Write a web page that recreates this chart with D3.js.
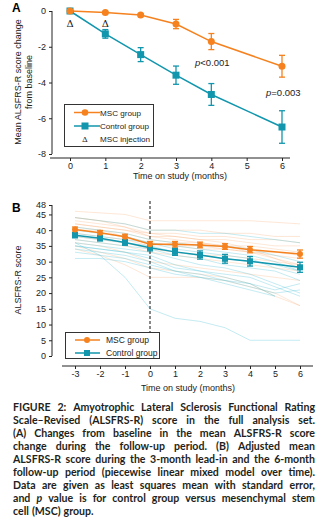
<!DOCTYPE html>
<html>
<head>
<meta charset="utf-8">
<script src="https://cdn.jsdelivr.net/npm/d3@7"></script>
<style>
  html, body { margin: 0; padding: 0; background: #fff; }
  svg { display: block; }
  .ax text { font-family: "Liberation Sans", Arial, sans-serif; font-size: 9px; fill: #222; }
  .ax path, .ax line { stroke: #222; stroke-width: 1; }
</style>
</head>
<body>
<svg id="fig" width="323" height="523"></svg>
<script>
// ---- Panel A: mean change from baseline ----
const monthsA = [0, 1, 2, 3, 4, 6];
const mscChange = [0, -0.09, -0.22, -0.73, -1.71, -3.09];
const mscChangeSE = [0, 0.05, 0.06, 0.26, 0.45, 0.61];
const ctlChange = [0, -1.28, -2.44, -3.59, -4.67, -6.49];
const ctlChangeSE = [0, 0.24, 0.39, 0.51, 0.61, 0.91];
const injectionMonths = [0, 1];
const ticksAX = [0, 1, 2, 3, 4, 5, 6];
const ticksAY = [0, -2, -4, -6, -8];

// ---- Panel B: adjusted mean score ----
const monthsB = [-3, -2, -1, 0, 1, 2, 3, 4, 6];
const mscScore = [40.2, 39.2, 37.9, 35.5, 35.5, 35.3, 34.8, 33.8, 32.4];
const mscScoreSE = [0.8, 0.7, 0.8, 0.9, 0.9, 0.9, 0.9, 1.0, 1.3];
const ctlScore = [38.4, 37.4, 36.1, 34.4, 33.1, 32.1, 30.9, 30.1, 28.2];
const ctlScoreSE = [0.8, 0.8, 0.9, 1.0, 1.1, 1.3, 1.4, 1.5, 1.6];
const monthsSubj = [-3, -2, -1, 0, 1, 2, 3, 4, 5, 6];
// individual patient trajectories
const mscSubjects = [
  [46, 45.5, 45, 43, 43, 43, 43, 43, 42.5, 42],
  [44, 43, 42, 40, 40, 40, 39, 39, 38, 38],
  [43, 42, 41, 39, 39, 38, 38, 37, 37, 36],
  [42, 41, 40, 38, 38, 37, 37, 36, 35, 35],
  [41, 40, 39, 37, 36, 36, 35, 35, 34, 33],
  [40, 40, 38, 36, 35, 35, 34, 33, 33, 32],
  [39, 38, 37, 35, 35, 34, 34, 33, 32, 31],
  [38, 37, 36, 34, 33, 32, 32, 31, 30, 29],
  [37, 36, 35, 33, 32, 31, 30, 29, 28, 27],
  [36, 35, 33, 30, 29, 28, 27, 26, 25, 24],
  [35, 33, 31, 28, 27, 26, 25, 23, 19, 16],
  [34, 32, 29, 25, 25, 25, 24, 22, 20, 16],
  [42, 41, 40, 39, 38, 37, 36, 34, 31, 28],
  [44, 43, 41, 38, 37, 36, 35, 33, 31, 29]
];
const ctlSubjects = [
  [44, 43, 42, 40, 40, 39, 39, 38, 37, 36],
  [41, 40, 39, 37, 36, 35, 35, 34, 32, 30],
  [40, 39, 38, 36, 35, 34, 33, 32, 30, 27],
  [38, 37, 36, 35, 33, 32, 31, 30, 29, 27],
  [37, 36, 35, 34, 32, 31, 29, 28, 27, 24],
  [36, 35, 34, 33, 31, 29, 28, 26, 23, 20],
  [35, 34, 33, 32, 29, 27, 26, 25, 22, 19],
  [34, 33, 32, 30, 27, 26, 24, 22, 20, 21],
  [33, 32, 31, 29, 27, 25, 23, 21, 19, null],
  [31, 31, 30, 28, 26, 25, 24, 23, 21, 23],
  [36, 32, 25, 15, 12, 11, 9, 5, 5, 5],
  [39, 38, 37, 36, 34, 33, 32, 31, 28, 26],
  [35, 34, 33, 31, 28, 27, 25, 23, 19, null]
];
const ticksBX = [-3, -2, -1, 0, 1, 2, 3, 4, 5, 6];
const ticksBY = [0, 5, 10, 15, 20, 25, 30, 35, 40, 45, 48];

const captionLines = [
  "FIGURE 2: Amyotrophic Lateral Sclerosis Functional Rating",
  "Scale–Revised (ALSFRS-R) score in the full analysis set.",
  "(A) Changes from baseline in the mean ALSFRS-R score",
  "change during the follow-up period. (B) Adjusted mean",
  "ALSFRS-R score during the 3-month lead-in and the 6-month",
  "follow-up period (piecewise linear mixed model over time).",
  "Data are given as least squares mean with standard error,",
  "and *p* value is for control group versus mesenchymal stem",
  "cell (MSC) group."
];

const ORANGE = "#f5821f";
const TEAL = "#1196ad";
const ORANGE_LIGHT = "rgba(247,160,100,0.32)";
const TEAL_LIGHT = "rgba(80,195,215,0.42)";
const FONT = "'Liberation Sans', Arial, sans-serif";
const fmt = d => String(d);  // plain hyphen minus, integer labels

const svg = d3.select("#fig");

function errorBars(g, xs, ys, se, x, y, color) {
  xs.forEach((m, i) => {
    if (!se[i]) return;
    const cx = x(m), y1 = y(ys[i] - se[i]), y2 = y(ys[i] + se[i]);
    g.append("line").attr("x1", cx).attr("x2", cx).attr("y1", y1).attr("y2", y2)
      .attr("stroke", color).attr("stroke-width", 1.3);
    [y1, y2].forEach(yy => g.append("line").attr("x1", cx - 3).attr("x2", cx + 3)
      .attr("y1", yy).attr("y2", yy).attr("stroke", color).attr("stroke-width", 1.3));
  });
}

// ===== Panel A =====
{
  const x = d3.scaleLinear().domain([0, 6]).range([70, 282]);
  const y = d3.scaleLinear().domain([-8, 0]).range([154, 11]);
  const g = svg.append("g");

  g.append("g").attr("class", "ax").attr("transform", "translate(52,0)")
    .call(d3.axisLeft(y).tickValues(ticksAY).tickSize(3).tickPadding(3).tickFormat(fmt))
    .call(s => s.select(".domain").attr("d", "M0,11V154"));
  g.append("g").attr("class", "ax").attr("transform", "translate(0,158)")
    .call(d3.axisBottom(x).tickValues(ticksAX).tickSize(3).tickPadding(2).tickFormat(fmt))
    .call(s => s.select(".domain").attr("d", "M50,0H290"));

  g.append("text").attr("x", 12).attr("y", 12).text("A")
    .attr("font-family", FONT).attr("font-weight", "bold").attr("font-size", 12);

  const yt = g.append("text").attr("transform", "translate(0,82) rotate(-90)")
    .attr("text-anchor", "middle").attr("font-family", FONT).attr("font-size", 9).attr("fill", "#222");
  yt.append("tspan").attr("x", 0).attr("y", 21).text("Mean ALSFRS-R score change");
  yt.append("tspan").attr("x", 0).attr("y", 32).text("from baseline");

  g.append("text").attr("x", 180).attr("y", 179).attr("text-anchor", "middle")
    .attr("font-family", FONT).attr("font-size", 9).attr("fill", "#222").text("Time on study (months)");

  const line = d3.line().x((d, i) => x(monthsA[i])).y(d => y(d));
  g.append("path").datum(mscChange).attr("d", line).attr("fill", "none").attr("stroke", ORANGE).attr("stroke-width", 1.5);
  g.append("path").datum(ctlChange).attr("d", line).attr("fill", "none").attr("stroke", TEAL).attr("stroke-width", 1.5);
  errorBars(g, monthsA, mscChange, mscChangeSE, x, y, ORANGE);
  errorBars(g, monthsA, ctlChange, ctlChangeSE, x, y, TEAL);
  monthsA.forEach((m, i) => {
    g.append("rect").attr("x", x(m) - 3.5).attr("y", y(ctlChange[i]) - 3.5)
      .attr("width", 7).attr("height", 7).attr("fill", TEAL);
    g.append("circle").attr("cx", x(m)).attr("cy", y(mscChange[i])).attr("r", 3.5).attr("fill", ORANGE);
  });

  injectionMonths.forEach(m => g.append("text").attr("x", x(m)).attr("y", 27).attr("text-anchor", "middle")
    .attr("font-family", "'DejaVu Serif', serif").attr("font-size", 10).attr("fill", "#222").text("Δ"));

  const pTxt = (px, py, rest) => {
    const t = g.append("text").attr("x", px).attr("y", py).attr("font-family", FONT)
      .attr("font-size", 9.5).attr("fill", "#222");
    t.append("tspan").attr("font-style", "italic").text("p");
    t.append("tspan").text(rest);
  };
  pTxt(195, 66, "<0.001");
  pTxt(266, 96, "=0.003");

  // legend
  const lg = g.append("g");
  lg.append("rect").attr("x", 64.5).attr("y", 104.5).attr("width", 89).attr("height", 42)
    .attr("fill", "#fff").attr("stroke", "#333").attr("stroke-width", 1);
  const items = [["MSC group", "c", ORANGE, 112.5], ["Control group", "s", TEAL, 126], ["MSC injection", "d", null, 138.5]];
  items.forEach(([label, kind, col, yy]) => {
    if (kind === "d") {
      lg.append("text").attr("x", 85).attr("y", yy + 3).attr("text-anchor", "middle")
        .attr("font-family", "'DejaVu Serif', serif").attr("font-size", 8).attr("fill", "#222").text("Δ");
    } else {
      lg.append("line").attr("x1", 74).attr("x2", 100).attr("y1", yy).attr("y2", yy)
        .attr("stroke", col).attr("stroke-width", 1.5);
      if (kind === "c") lg.append("circle").attr("cx", 85).attr("cy", yy).attr("r", 3.3).attr("fill", col);
      else lg.append("rect").attr("x", 81.5).attr("y", yy - 3.5).attr("width", 7).attr("height", 7).attr("fill", col);
    }
    lg.append("text").attr("x", 100).attr("y", yy + 3).attr("font-family", FONT).attr("font-size", 8.1)
      .attr("fill", "#222").text(label);
  });
}

// ===== Panel B =====
{
  const x = d3.scaleLinear().domain([-3, 6]).range([75, 300]);
  const y = d3.scaleLinear().domain([0, 48]).range([356, 205]);
  const g = svg.append("g");

  g.append("g").attr("class", "ax").attr("transform", "translate(52,0)")
    .call(d3.axisLeft(y).tickValues(ticksBY).tickSize(3).tickPadding(3).tickFormat(fmt))
    .call(s => s.select(".domain").attr("d", "M0,205V356"));
  g.append("g").attr("class", "ax").attr("transform", "translate(0,366)")
    .call(d3.axisBottom(x).tickValues(ticksBX).tickSize(3).tickPadding(2).tickFormat(fmt))
    .call(s => s.select(".domain").attr("d", "M62,0H313"));

  g.append("text").attr("x", 12).attr("y", 212).text("B")
    .attr("font-family", FONT).attr("font-weight", "bold").attr("font-size", 12);
  g.append("text").attr("transform", "translate(21,280) rotate(-90)").attr("text-anchor", "middle")
    .attr("font-family", FONT).attr("font-size", 9).attr("fill", "#222").text("ALSFRS-R score");
  g.append("text").attr("x", 188).attr("y", 391).attr("text-anchor", "middle")
    .attr("font-family", FONT).attr("font-size", 9).attr("fill", "#222").text("Time on study (months)");

  const subjLine = d3.line().defined(d => d != null).x((d, i) => x(monthsSubj[i])).y(d => y(d));
  const subj = g.append("g");
  mscSubjects.forEach(s => subj.append("path").datum(s).attr("d", subjLine)
    .attr("fill", "none").attr("stroke", ORANGE_LIGHT).attr("stroke-width", 0.8));
  ctlSubjects.forEach(s => subj.append("path").datum(s).attr("d", subjLine)
    .attr("fill", "none").attr("stroke", TEAL_LIGHT).attr("stroke-width", 0.8));

  g.append("line").attr("x1", x(0)).attr("x2", x(0)).attr("y1", 201).attr("y2", y(0))
    .attr("stroke", "#111").attr("stroke-width", 1).attr("stroke-dasharray", "3,2");

  const line = d3.line().x((d, i) => x(monthsB[i])).y(d => y(d));
  g.append("path").datum(mscScore).attr("d", line).attr("fill", "none").attr("stroke", ORANGE).attr("stroke-width", 1.5);
  g.append("path").datum(ctlScore).attr("d", line).attr("fill", "none").attr("stroke", TEAL).attr("stroke-width", 1.5);
  errorBars(g, monthsB, mscScore, mscScoreSE, x, y, ORANGE);
  errorBars(g, monthsB, ctlScore, ctlScoreSE, x, y, TEAL);
  monthsB.forEach((m, i) => {
    g.append("rect").attr("x", x(m) - 3).attr("y", y(ctlScore[i]) - 3)
      .attr("width", 6).attr("height", 6).attr("fill", TEAL);
    g.append("circle").attr("cx", x(m)).attr("cy", y(mscScore[i])).attr("r", 3).attr("fill", ORANGE);
  });

  const lg = g.append("g");
  lg.append("rect").attr("x", 65.5).attr("y", 332.5).attr("width", 94).attr("height", 26)
    .attr("fill", "#fff").attr("stroke", "#333").attr("stroke-width", 1);
  [["MSC group", "c", ORANGE, 340], ["Control group", "s", TEAL, 353]].forEach(([label, kind, col, yy]) => {
    lg.append("line").attr("x1", 75).attr("x2", 100).attr("y1", yy).attr("y2", yy)
      .attr("stroke", col).attr("stroke-width", 1.5);
    if (kind === "c") lg.append("circle").attr("cx", 87).attr("cy", yy).attr("r", 3).attr("fill", col);
    else lg.append("rect").attr("x", 84).attr("y", yy - 3).attr("width", 6).attr("height", 6).attr("fill", col);
    lg.append("text").attr("x", 106).attr("y", yy + 3).attr("font-family", FONT).attr("font-size", 8.5)
      .attr("fill", "#222").text(label);
  });
}

// ===== Caption (justified) =====
{
  const left = 13, right = 315, top = 410.5, lh = 13.1;
  const cap = svg.append("g").attr("font-family", "Lato, 'Open Sans', sans-serif")
    .attr("font-weight", "bold").attr("font-size", 10.6).attr("fill", "#231f20");
  captionLines.forEach((ln, li) => {
    const words = ln.split(" ");
    const yy = top + li * lh;
    const nodes = words.map(w => {
      const t = cap.append("text").attr("y", yy);
      const m = w.match(/^\*(.+)\*$/);
      if (m) t.attr("font-style", "italic").text(m[1]); else t.text(w);
      return t;
    });
    const widths = nodes.map(n => n.node().getComputedTextLength());
    const total = d3.sum(widths);
    const last = li === captionLines.length - 1;
    const gap = last ? 3 : (right - left - total) / (words.length - 1);
    let cx = left;
    nodes.forEach((n, i) => { n.attr("x", cx); cx += widths[i] + gap; });
  });
}
</script>
</body>
</html>
